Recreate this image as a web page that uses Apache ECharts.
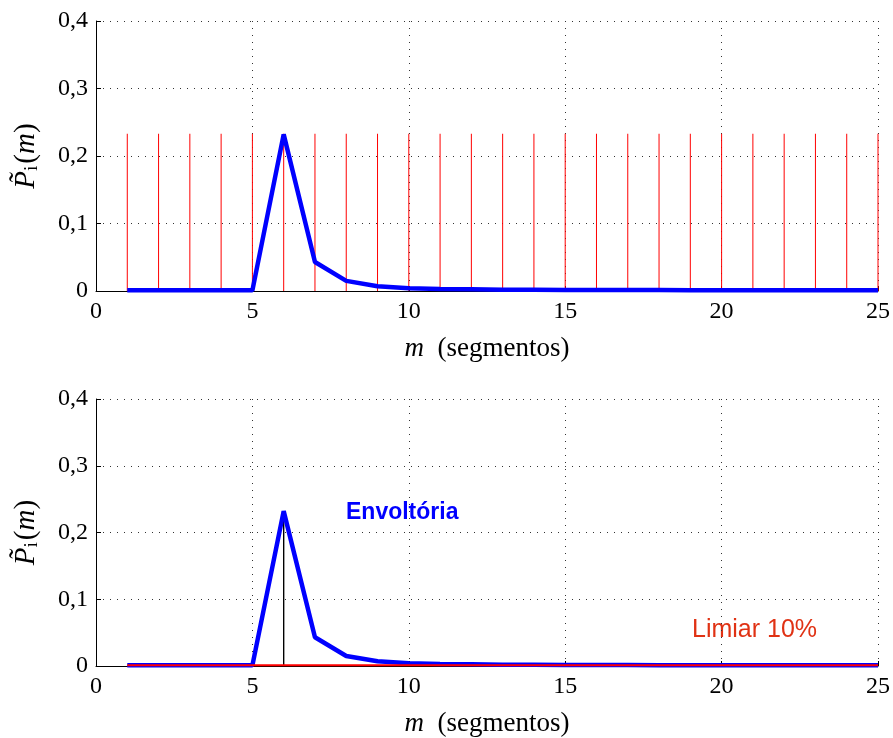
<!DOCTYPE html>
<html>
<head>
<meta charset="utf-8">
<script src="https://cdn.jsdelivr.net/npm/echarts@6/dist/echarts.min.js"></script>
<style>html,body{margin:0;padding:0;background:#fff}#c{width:893px;height:738px}</style>
</head>
<body>
<div id="c"></div>
<script>
var segments = [1,2,3,4,5,6,7,8,9,10,11,12,13,14,15,16,17,18,19,20,21,22,23,24,25];
var envelope = [0.001,0.001,0.001,0.001,0.001,0.232,0.043,0.015,0.007,0.004,0.003,0.0025,0.002,0.0018,0.0016,0.0015,0.0014,0.0013,0.0012,0.0012,0.0011,0.0011,0.001,0.001,0.001];
var stemHeights = [0.233,0.233,0.233,0.233,0.233,0.233,0.233,0.233,0.233,0.233,0.233,0.233,0.233,0.233,0.233,0.233,0.233,0.233,0.233,0.233,0.233,0.233,0.233,0.233,0.233];
var peakSegment = 6;
var peakValue = 0.232;
var thresholdValue = 0.0013;
var xTicks = [0,5,10,15,20,25];
var yTicks = [0,0.1,0.2,0.3,0.4];

var serif = 'Liberation Serif';
var chart = echarts.init(document.getElementById('c'));

function pair(xs, ys){ return xs.map(function(x,i){return [x, ys[i]];}); }

function xAxis(idx){
  return {
    gridIndex: idx, type: 'value', min: 0, max: 25, interval: 5,
    axisLine: {show: true, onZero: false, lineStyle: {color: '#000', width: 1}},
    axisTick: {show: true, inside: true, length: 5, lineStyle: {color: '#000'}},
    axisLabel: {color: '#000', fontFamily: serif, fontSize: 24, margin: 9},
    splitLine: {show: true, lineStyle: {color: '#333', type: [1,6], width: 1}},
    name: '{m|m}  (segmentos)', nameLocation: 'middle', nameGap: 44,
    nameTextStyle: {color: '#000', fontFamily: serif, fontSize: 27,
      rich: {m: {fontStyle: 'italic', fontFamily: serif, fontSize: 27, color: '#000'}}}
  };
}
function yAxis(idx){
  return {
    gridIndex: idx, type: 'value', min: 0, max: 0.4, interval: 0.1,
    axisLine: {show: true, lineStyle: {color: '#000', width: 1}},
    axisTick: {show: true, inside: true, length: 5, lineStyle: {color: '#000'}},
    axisLabel: {color: '#000', fontFamily: serif, fontSize: 24, margin: 8,
      formatter: function(v){ return v === 0 ? '0' : v.toFixed(1).replace('.', ','); }},
    splitLine: {show: true, lineStyle: {color: '#333', type: [1,6], width: 1}},
    name: '{p|P\u0303}{s|i}{b|(}{m|m}{b|)}', nameLocation: 'middle', nameGap: 54, nameRotate: 90,
    nameTextStyle: {color: '#000', fontFamily: serif, fontSize: 29,
      rich: {
        p: {fontStyle: 'italic', fontFamily: serif, fontSize: 29, color: '#000'},
        s: {fontFamily: serif, fontSize: 19, color: '#000', padding: [12,2,0,0]},
        b: {fontFamily: serif, fontSize: 29, color: '#000'},
        m: {fontStyle: 'italic', fontFamily: serif, fontSize: 29, color: '#000'}
      }}
  };
}

var option = {
  animation: false,
  backgroundColor: '#fff',
  grid: [
    {left: 96, top: 21, width: 783, height: 270},
    {left: 96, top: 399, width: 783, height: 268}
  ],
  xAxis: [xAxis(0), xAxis(1)],
  yAxis: [yAxis(0), yAxis(1)],
  series: [
    {type: 'bar', xAxisIndex: 0, yAxisIndex: 0, barWidth: 1, z: 2,
      itemStyle: {color: '#ff0000'}, data: pair(segments, stemHeights)},
    {type: 'line', xAxisIndex: 0, yAxisIndex: 0, symbol: 'none', z: 3,
      lineStyle: {color: '#0000ff', width: 4.5}, data: pair(segments, envelope)},
    {type: 'bar', xAxisIndex: 1, yAxisIndex: 1, barWidth: 1.4, z: 2,
      itemStyle: {color: '#000'}, data: [[peakSegment, peakValue]]},
    {type: 'line', xAxisIndex: 1, yAxisIndex: 1, symbol: 'none', z: 3,
      lineStyle: {color: '#0000ff', width: 4.5}, data: pair(segments, envelope)},
    {type: 'line', xAxisIndex: 1, yAxisIndex: 1, symbol: 'none', z: 4,
      lineStyle: {color: '#ff0000', width: 2},
      data: pair(segments, segments.map(function(){return thresholdValue;}))}
  ],
  graphic: [
    {type: 'text', left: 346, top: 501, style: {text: 'Envoltória', fill: '#0000ff',
      font: 'bold 23px "Liberation Sans", Arial, sans-serif'}},
    {type: 'text', left: 692, top: 618, style: {text: 'Limiar 10%', fill: '#e03214',
      font: '25px "Liberation Sans", Arial, sans-serif'}}
  ]
};
chart.setOption(option);
</script>
</body>
</html>
